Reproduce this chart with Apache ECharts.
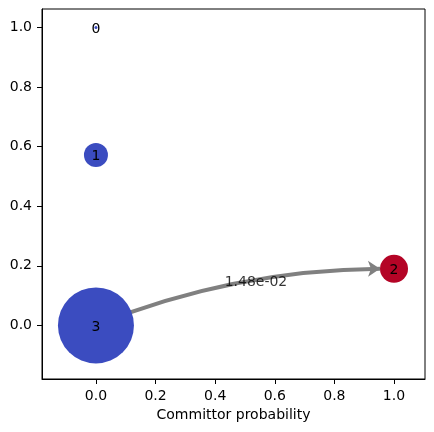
<!DOCTYPE html>
<html>
<head>
<meta charset="utf-8">
<script src="https://cdn.jsdelivr.net/npm/echarts@6/dist/echarts.min.js"></script>
<style>
  html, body { margin: 0; padding: 0; background: #fff; }
  #chart { width: 434px; height: 432px; }
</style>
</head>
<body>
<div id="chart"></div>
<script>
// states, committor probability (x) and layout height (y)
const nodeNames = ['0', '1', '2', '3'];
const committor = [0, 0, 1, 0];
const heights = [1.0, 0.572, 0.19, 0.0];
const nodeSizes = [3, 24, 28, 76];
const nodeColors = ['#3b4cc0', '#3b4cc0', '#b40426', '#3b4cc0'];

// flux edges
const edgeSources = ['3'];
const edgeTargets = ['2'];
const edgeFlux = [0.0148];

const xTicks = [0, 0.2, 0.4, 0.6, 0.8, 1.0];
const yTicks = [0, 0.2, 0.4, 0.6, 0.8, 1.0];

const curveness = 0.1;
const font = 'DejaVu Sans';

function sci(v) {
    let s = v.toExponential(2);
    return s.replace(/e([+-])(\d)$/, 'e$10$2');
}

const chart = echarts.init(document.getElementById('chart'));

const nodes = nodeNames.map(function (n, i) {
    return {
        name: n,
        value: [committor[i], heights[i]],
        symbolSize: nodeSizes[i],
        itemStyle: { color: nodeColors[i] }
    };
});

const links = edgeSources.map(function (s, i) {
    return { source: s, target: edgeTargets[i], value: edgeFlux[i] };
});

function axisCommon(ticks) {
    return {
        type: 'value',
        axisLine: { show: true, onZero: false, lineStyle: { color: '#000' } },
        axisTick: { show: true, length: 5, customValues: ticks, lineStyle: { color: '#000' } },
        axisLabel: {
            color: '#000', fontFamily: font, fontSize: 14, margin: 10,
            customValues: ticks,
            formatter: function (v) { return v.toFixed(1); }
        },
        splitLine: { show: false }
    };
}

const xAxis = Object.assign(axisCommon(xTicks), {
    min: -0.181, max: 1.104,
    name: 'Committor probability',
    nameLocation: 'middle',
    nameGap: 29,
    nameTextStyle: { color: '#000', fontFamily: font, fontSize: 14 }
});
const yAxis = Object.assign(axisCommon(yTicks), { min: -0.18, max: 1.062 });

chart.setOption({
    animation: false,
    grid: {
        left: 42, right: 9, top: 9, bottom: 53,
        show: true, borderColor: '#000', borderWidth: 1, backgroundColor: 'transparent'
    },
    xAxis: xAxis,
    yAxis: yAxis,
    series: [{
        type: 'graph',
        coordinateSystem: 'cartesian2d',
        data: nodes,
        links: links,
        edgeSymbol: ['none', 'arrow'],
        edgeSymbolSize: [0, 12],
        label: {
            show: true,
            position: 'inside',
            offset: [0, 1.5],
            color: '#000',
            fontFamily: font,
            fontSize: 14,
            formatter: '{b}'
        },
        lineStyle: { color: '#808080', width: 4, opacity: 1, curveness: curveness },
        emphasis: { disabled: true }
    }]
});

// edge labels: horizontal text placed at the middle of the visible part of each curved edge
const edgeLabelData = links.map(function (l) {
    const si = nodeNames.indexOf(l.source), ti = nodeNames.indexOf(l.target);
    const p0 = chart.convertToPixel({ gridIndex: 0 }, nodes[si].value);
    const p1 = chart.convertToPixel({ gridIndex: 0 }, nodes[ti].value);
    const cp = [
        (p0[0] + p1[0]) / 2 - (p0[1] - p1[1]) * curveness,
        (p0[1] + p1[1]) / 2 - (p1[0] - p0[0]) * curveness
    ];
    const len = Math.hypot(p1[0] - p0[0], p1[1] - p0[1]);
    const t0 = nodeSizes[si] / 2 / len, t1 = 1 - nodeSizes[ti] / 2 / len;
    const t = (t0 + t1) / 2;
    const px = [0, 1].map(function (k) {
        return (1 - t) * (1 - t) * p0[k] + 2 * t * (1 - t) * cp[k] + t * t * p1[k];
    });
    const v = chart.convertFromPixel({ gridIndex: 0 }, px);
    return { value: [v[0], v[1], l.value] };
});

chart.setOption({
    series: [{}, {
        type: 'scatter',
        data: edgeLabelData,
        symbolSize: 0,
        silent: true,
        z: 5,
        label: {
            show: true,
            position: 'inside',
            offset: [2, 2],
            color: '#000',
            fontFamily: font,
            fontSize: 14,
            formatter: function (p) { return sci(p.value[2]); }
        }
    }]
});
</script>
</body>
</html>
